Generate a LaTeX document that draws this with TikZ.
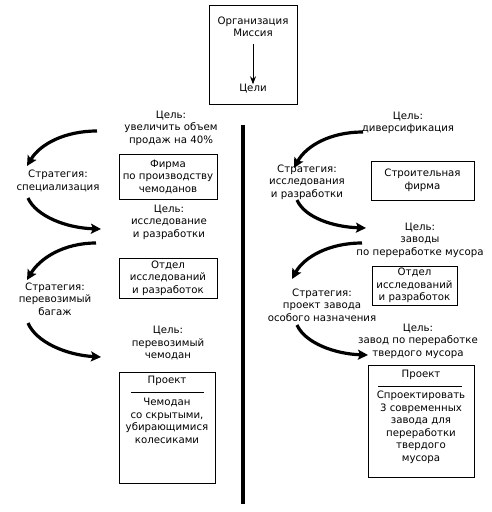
\documentclass[tikz,border=0pt]{standalone}
\usepackage{fontspec}
\setmainfont{DejaVu Sans}
\usetikzlibrary{arrows.meta}
\begin{document}
\begin{tikzpicture}[x=1pt,y=-1pt,
  txt/.style={align=center,inner sep=0pt,font=\fontsize{10.2}{12.5}\selectfont},
  boxed/.style={draw,line width=0.9pt,inner sep=0pt},
  bigarrow/.style={line width=3.2pt,-{Stealth[length=10pt,width=10pt,inset=2pt]}},
  thinarrow/.style={line width=0.9pt,-{Stealth[length=8pt,width=6pt]}}]
\useasboundingbox (0,0) rectangle (491,512);
% top box
\node[boxed,minimum width=88pt,minimum height=99pt] (topbox) at (253,54.5) {};
\node[txt] (org) at (253,27) {Организация\\Миссия};
\node[txt] (goals) at (253,89) {Цели};
\draw[thinarrow] (253,44) -- (goals.north);
% divider
\coordinate (dtop) at (243,125);
\coordinate (dbot) at (243,504);
\draw[line width=4pt] (dtop) -- (dbot);
% left column
\node[txt] (lg1) at (171,128) {Цель:\\увеличить объем\\продаж на 40\%};
\node[boxed,minimum width=98pt,minimum height=45pt] (lb1) at (168,176.5) {};
\node[txt] at (lb1) {Фирма\\по производству\\чемоданов};
\node[txt] (ls1) at (58,181) {Стратегия:\\специализация};
\node[txt] (lg2) at (169,222) {Цель:\\исследование\\и разработки};
\node[boxed,minimum width=98pt,minimum height=40pt] (lb2) at (168,278) {};
\node[txt] at (lb2) {Отдел\\исследований\\и разработок};
\node[txt] (ls2) at (55,299) {Стратегия:\\перевозимый\\багаж};
\node[txt] (lg3) at (168,343) {Цель:\\перевозимый\\чемодан};
\node[boxed,minimum width=96pt,minimum height=111pt] (lb3) at (167,427.5) {};
\node[txt] (lp1) at (167,381) {Проект};
\coordinate (lsa) at (131,392);
\coordinate (lsb) at (204,392);
\draw[line width=0.9pt] (lsa) -- (lsb);
\node[txt,anchor=north] (lp2) at (167,398) {Чемодан\\со скрытыми,\\убирающимися\\колесиками};
% right column
\node[txt] (rg1) at (408,123) {Цель:\\диверсификация};
\node[boxed,minimum width=103pt,minimum height=39pt] (rb1) at (422.5,180.5) {};
\node[txt] at (rb1) {Строительная\\фирма};
\node[txt] (rs1) at (307,182) {Стратегия:\\исследования\\и разработки};
\node[txt] (rg2) at (420,240) {Цель:\\заводы\\по переработке мусора};
\node[boxed,minimum width=85pt,minimum height=39pt] (rb2) at (414.5,285.5) {};
\node[txt] at (rb2) {Отдел\\исследований\\и разработок};
\node[txt] (rs2) at (322,305) {Стратегия:\\проект завода\\особого назначения};
\node[txt] (rg3) at (418,341) {Цель:\\завод по переработке\\твердого мусора};
\node[boxed,minimum width=106pt,minimum height=112pt] (rb3) at (421,421) {};
\node[txt] (rp1) at (421,375) {Проект};
\coordinate (rsa) at (378,386);
\coordinate (rsb) at (462,386);
\draw[line width=0.9pt] (rsa) -- (rsb);
\node[txt,anchor=north] (rp2) at (421,391) {Спроектировать\\3 современных\\завода для\\переработки\\твердого\\мусора};
% curved arrows
\coordinate (a1s) at (97,131); \coordinate (a1e) at (27,166);
\coordinate (a2s) at (28,198); \coordinate (a2e) at (101,229);
\coordinate (a3s) at (96,243); \coordinate (a3e) at (27,280);
\coordinate (a4s) at (28,323); \coordinate (a4e) at (101,357);
\draw[bigarrow] (a1s) .. controls (65,131) and (40,144) .. (a1e);
\draw[bigarrow] (a2s) .. controls (36,216) and (66,228) .. (a2e);
\draw[bigarrow] (a3s) .. controls (64,243) and (40,258) .. (a3e);
\draw[bigarrow] (a4s) .. controls (36,342) and (66,355) .. (a4e);
\coordinate (b1s) at (363,132); \coordinate (b1e) at (294,168);
\coordinate (b2s) at (297,200); \coordinate (b2e) at (366,228);
\coordinate (b3s) at (362,243); \coordinate (b3e) at (292,279);
\coordinate (b4s) at (297,325); \coordinate (b4e) at (368,355);
\draw[bigarrow] (b1s) .. controls (330,132) and (306,146) .. (b1e);
\draw[bigarrow] (b2s) .. controls (305,218) and (334,227) .. (b2e);
\draw[bigarrow] (b3s) .. controls (329,243) and (304,257) .. (b3e);
\draw[bigarrow] (b4s) .. controls (305,343) and (335,354) .. (b4e);
\end{tikzpicture}
\end{document}
